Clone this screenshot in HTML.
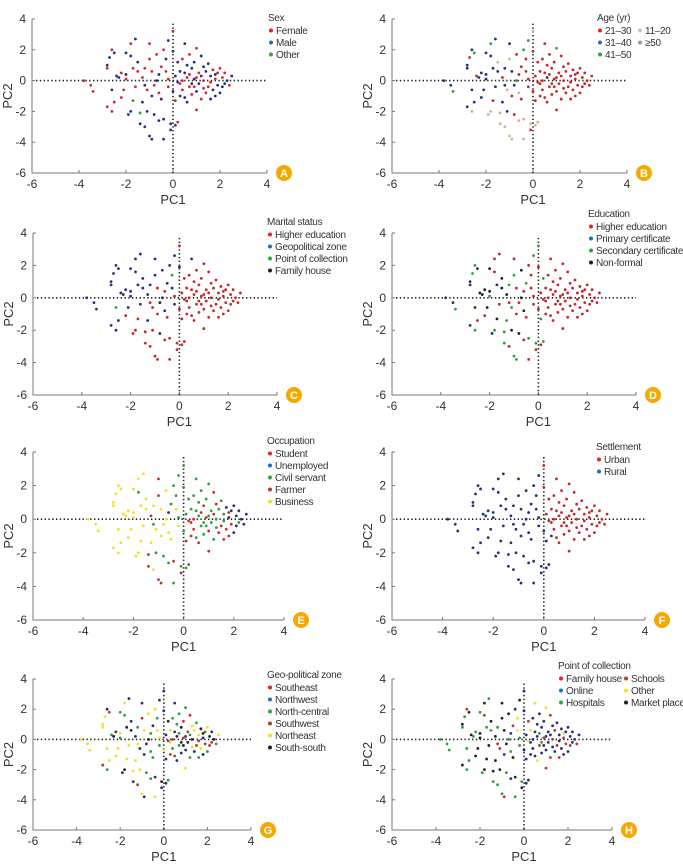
<!DOCTYPE html>
<html><head><meta charset="utf-8">
<style>
body{margin:0;background:#fff;width:683px;height:864px;overflow:hidden}
svg{display:block;font-family:"Liberation Sans",sans-serif}
</style></head>
<body>
<svg id="fig" width="683" height="864" viewBox="0 0 683 864" xmlns="http://www.w3.org/2000/svg"></svg>
<script>
// Shared PCA scores (PC1, PC2) for the respondents
const pc1 = [-3.8,-3.5,-3.4,-2.8,-2.8,-2.8,-2.7,-2.6,-2.6,-2.6,-2.5,-2.5,-2.4,-2.3,-2.2,-2.1,-2.0,-2.0,-2.0,-1.9,-1.8,-1.8,-1.8,-1.7,-1.7,-1.6,-1.6,-1.5,-1.5,-1.4,-1.4,-1.3,-1.3,-1.2,-1.2,-1.1,-1.1,-1.0,-1.0,-1.0,-0.9,-0.9,-0.8,-0.8,-0.7,-0.7,-0.6,-0.6,-0.5,-0.5,-0.4,-0.4,-0.4,-0.3,-0.3,-0.2,-0.2,-0.1,-0.1,0,0,0,0.1,0.1,0.1,0.2,0.2,0.3,0.3,0.4,0.4,0.5,0.5,0.6,0.6,0.7,0.7,0.8,0.8,0.9,0.9,1.0,1.0,1.0,1.1,1.1,1.2,1.2,1.3,1.3,1.4,1.5,1.5,1.6,1.6,1.7,1.7,1.8,1.8,1.9,1.9,2.0,2.0,2.1,2.1,2.2,2.3,2.4,2.5,0.2,-0.2,0.5,0.9,1.2,1.4,1.6,0.3,0.7,-0.9,-1.2,-2.2,0.6,1.0,1.8,2.2,0.4,-0.6,1.3,0.8];
const pc2 = [0,-0.3,-0.7,0.8,1.0,-1.7,1.5,2.0,-0.6,-2.0,1.8,-1.4,0.3,0.2,0.5,-0.6,1.8,0.4,0.1,-2.2,-2.0,2.4,1.6,0.8,-1.3,2.7,-0.4,0.6,1.2,-2.1,-2.8,-1.4,0.2,-3.0,0.8,-2.0,-0.6,2.4,1.4,-3.6,-3.8,0.6,-2.2,-0.3,0.0,1.7,-0.8,-2.6,0.9,-1.2,2.0,-2.5,-3.8,0.6,1.4,2.6,-0.4,-3.2,-2.8,3.2,1.9,-0.7,-1.3,0.3,-2.9,-2.7,1.2,-0.2,0.6,1.4,-0.6,2.4,-1.1,0.2,-1.4,1.7,-0.4,0.8,-0.9,0.1,1.2,2.1,-0.7,-1.9,0.5,-0.2,1.6,-1.2,0.9,0.0,-0.8,1.1,-0.4,0.3,-1.2,0.7,-0.6,0.1,-1.0,0.5,-0.3,0.8,-0.8,0.2,-0.4,0.5,0.0,-0.3,0.3,-0.1,0.1,0.5,-0.4,0.3,0.6,-0.1,-1.0,0.4,-1.0,-0.3,-1.1,1.0,0.2,0.4,-0.2,0.0,0.4,-0.5,-0.2];
// Group membership per panel (one digit per respondent)
const catSex        = "0000101010 1011001101 1010210012 1101010001 1010100101 0110110110 1101101010 0110100101 1010011010 0101101010 1010101011 0101101011 010110101";
const catAge        = "1121110113 2101111113 3211011133 3103113133 3101203300 2330020033 0000330000 0001000000 0200000000 0000000000 0000000000 0000000001 100000000";
const catMarital    = "1111111121 1111111110 0111011110 0110100110 0013111010 1001211000 1000000000 0100000000 0000000000 0000000000 0000000000 0000000000 000000000";
const catEducation  = "1121112212 1033333321 2001300332 2230232022 2030333020 0200020022 0020022000 0000000000 0000000000 0000000000 0000000000 0000000000 000000000";
const catOccupation = "4444444444 4444444444 4424444443 3434424330 3424444224 2324224322 2202232022 0222022020 2200220202 0202010101 0111111110 2220220342 422020122";
const catSettlement = "1111111111 1111111111 1111111111 1111111111 1111111111 111111111 00110110000 0000000000 0000000000 0000000000 0000000000 1000001011 100000100";
const catZone       = "4444434142 3425142421 5425414514 1413241134 1421542212 4144212151 1411125442 2135122510 0214350245 1234254152 3425015243 4152433214 421503245";
const catPoint      = "2222552322 5252252552 5532525255 2552253552 0525252135 1524452521 1111113141 1411413113 1413113313 1131311311 3111311314 2111311213 511411112";
const xTicks = [-6,-4,-2,0,2,4];
const yTicks = [4,2,0,-2,-4,-6];

const NS="http://www.w3.org/2000/svg";
const svg=document.getElementById('fig');
function mk(tag,attrs,parent){const e=document.createElementNS(NS,tag);for(const k in attrs)e.setAttribute(k,attrs[k]);(parent||svg).appendChild(e);return e;}

const panels=[
 {id:'a',L:'A',box:[32,267,19,173],cats:catSex,title:'Sex',leg:[268,17],legCols:1,colW:0,
  names:['Female','Male','Other'],mark:['#d8262e','#27307a','#2e9e3e'],dot:['#e5202a','#1f6fc0','#2aa83e']},
 {id:'b',L:'B',box:[392,627,19,173],cats:catAge,title:'Age (yr)',leg:[597,17],legCols:2,colW:40,
  names:['21–30','31–40','41–50','11–20','≥50'],mark:['#c8262e','#27307a','#2e9e3e','#d2b48c','#9a9a9a'],dot:['#e5202a','#1f6fc0','#2aa83e','#d9c3a0','#9a9a9a']},
 {id:'c',L:'C',box:[33,277,233,395],cats:catMarital,title:'Marital status',leg:[267,221],legCols:1,colW:0,
  names:['Higher education','Geopolitical zone','Point of collection','Family house'],mark:['#c8262e','#27307a','#2e9e3e','#222'],dot:['#e5202a','#1f6fc0','#2aa83e','#222']},
 {id:'d',L:'D',box:[392,636,233,395],cats:catEducation,title:'Education',leg:[588,213],legCols:1,colW:0,
  names:['Higher education','Primary certificate','Secondary certificate','Non-formal'],mark:['#c8262e','#27307a','#2e9e3e','#222'],dot:['#e5202a','#1f6fc0','#2aa83e','#222']},
 {id:'e',L:'E',box:[33,284,452,620],cats:catOccupation,title:'Occupation',leg:[267,440],legCols:1,colW:0,
  names:['Student','Unemployed','Civil servant','Farmer','Business'],mark:['#d8262e','#27307a','#2e9e3e','#b03a2e','#f2e020'],dot:['#e5202a','#1f6fc0','#2aa83e','#b5422e','#f5e020']},
 {id:'f',L:'F',box:[392,645,452,620],cats:catSettlement,title:'Settlement',leg:[596,446],legCols:1,colW:0,
  names:['Urban','Rural'],mark:['#c8262e','#27307a'],dot:['#e5202a','#1f6fc0']},
 {id:'g',L:'G',box:[33,251,679,830],cats:catZone,title:'Geo-political zone',leg:[267,674],legCols:1,colW:0,
  names:['Southeast','Northwest','North-central','Southwest','Northeast','South-south'],mark:['#d8262e','#27307a','#2e9e3e','#b03a2e','#f2e020','#222'],dot:['#e5202a','#1f6fc0','#2aa83e','#b5422e','#f5e020','#222']},
 {id:'h',L:'H',box:[392,612,679,830],cats:catPoint,title:'Point of collection',leg:[558,665],legCols:2,colW:65,
  names:['Family house','Online','Hospitals','Schools','Other','Market place'],mark:['#d8262e','#27307a','#2e9e3e','#b03a2e','#f2e020','#222'],dot:['#e5202a','#1f6fc0','#2aa83e','#b5422e','#f5e020','#222']}
];

panels.forEach(p=>{
  const [x0,x1,y0,y1]=p.box;
  const sx=v=>x0+(v+6)/10*(x1-x0);
  const sy=v=>y0+(4-v)/10*(y1-y0);
  const g=mk('g',{});
  
  
  const ax=mk('path',{d:`M${x0},${y0} V${y1} H${x1}`,fill:'none',stroke:'#777','stroke-width':1},g);
  
  
  xTicks.forEach(t=>{
    mk('line',{x1:sx(t),x2:sx(t),y1:y1,y2:y1-3,stroke:'#777'},g);
    const tx=mk('text',{x:sx(t),y:y1+15,'font-size':12,'text-anchor':'middle',fill:'#333'},g);
    tx.textContent=t;
    
    
  });
  yTicks.forEach(t=>{
    mk('line',{x1:x0,x2:x0+3,y1:sy(t),y2:sy(t),stroke:'#777'},g);
    const ty=mk('text',{x:x0-6,y:sy(t)+4,'font-size':12,'text-anchor':'end',fill:'#333'},g);
    ty.textContent=t;
    
    
  });
  const xt=mk('text',{x:sx(0),y:y1+31,'font-size':13,'text-anchor':'middle',fill:'#333'},g);
  xt.textContent='PC1';
  
  
  const yt=mk('text',{x:0,y:0,'font-size':13,'text-anchor':'middle',fill:'#333',transform:`translate(${x0-20},${sy(-1)}) rotate(-90)`},g);
  yt.textContent='PC2';
  
  
  mk('line',{x1:x0+4,x2:x1,y1:sy(0),y2:sy(0),stroke:'#222','stroke-width':1.6,'stroke-dasharray':'1.4 2.4'},g);
  mk('line',{x1:sx(0),x2:sx(0),y1:sy(3.7),y2:y1,stroke:'#222','stroke-width':1.6,'stroke-dasharray':'1.4 2.4'},g);
  const cats=p.cats.replace(/\s/g,'');
  pc1.forEach((v,i)=>{
    const c=+(cats[i]||0);
    const pt=mk('circle',{cx:sx(v),cy:sy(pc2[i]),r:1.4,fill:p.mark[c]},g);
    
    
  });
  const lg=mk('g',{},g);
  
  
  const tt=mk('text',{x:p.leg[0],y:p.leg[1]+4,'font-size':10,'letter-spacing':-0.3,fill:'#333'},lg);
  tt.textContent=p.title;
  const rows=p.legCols===2?3:p.names.length;
  p.names.forEach((n,i)=>{
    const col=Math.floor(i/rows), row=i%rows;
    const lx=p.leg[0]+col*p.colW, ly=p.leg[1]+17+row*12;
    const it=mk('g',{},lg);
    
    
    mk('circle',{cx:lx+3,cy:ly-3.5,r:2,fill:p.dot[i]},it);
    const t=mk('text',{x:lx+8,y:ly,'font-size':10,'letter-spacing':-0.3,fill:'#333'},it);
    t.textContent=n;
  });
  const bd=mk('g',{},g);
  
  
  mk('circle',{cx:x1+17,cy:y1,r:8,fill:'#f5a800'},bd);
  const bt=mk('text',{x:x1+17,y:y1+4,'font-size':11,'font-weight':'bold','text-anchor':'middle',fill:'#fff'},bd);
  bt.textContent=p.L;
});
</script>
</body></html>
